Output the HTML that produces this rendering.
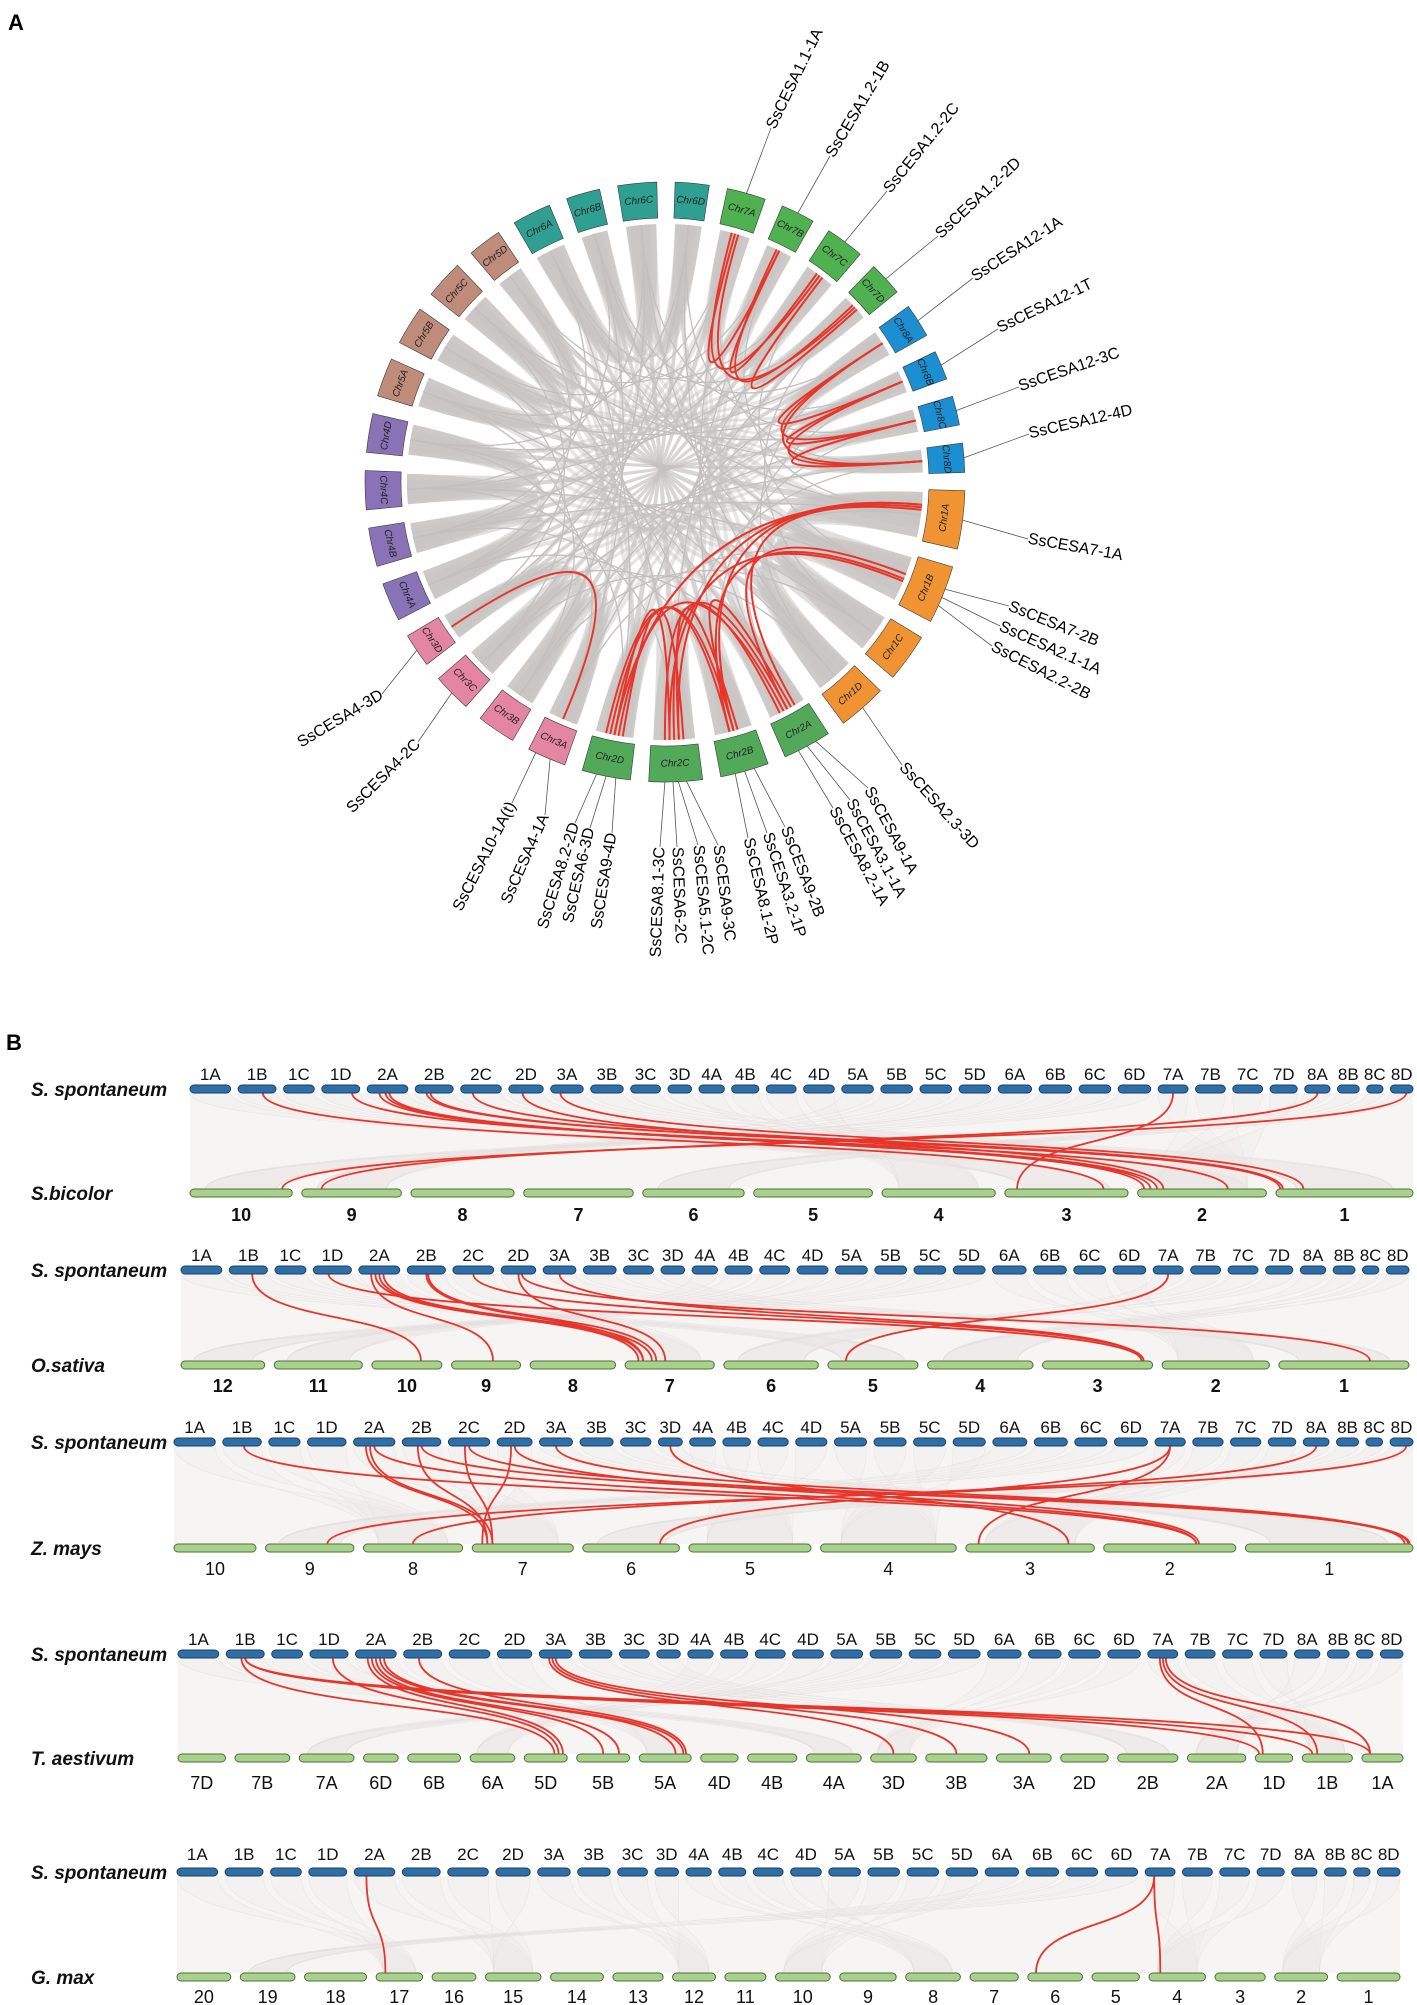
<!DOCTYPE html>
<html><head><meta charset="utf-8"><title>CESA synteny</title>
<style>
html,body{margin:0;padding:0;background:#fff;}
svg{display:block;font-family:"Liberation Sans",Arial,sans-serif;}
</style></head>
<body>
<svg id="fig" width="1417" height="2005" viewBox="0 0 1417 2005" xmlns="http://www.w3.org/2000/svg">
<text x="8" y="30" font-size="22" font-weight="bold">A</text>
<text x="6" y="1050" font-size="22" font-weight="bold">B</text>
<g id="circ"></g>
<g id="lin"></g>
</svg>
<script>
// ---------- Panel A data ----------
const cirChr = ['7A','7B','7C','7D','8A','8B','8C','8D','1A','1B','1C','1D','2A','2B','2C','2D','3A','3B','3C','3D','4A','4B','4C','4D','5A','5B','5C','5D','6A','6B','6C','6D'];
const cirLen = [8,7,8,7,7,6,6,6,12,12,10,10,10,10,11,10,8,8,8,7,8,8,8,8,8,8,8,7,8,7,8,7];
const groupColor = {'1':'#ef9333','2':'#52a95a','3':'#e385a3','4':'#8a72b6','5':'#bf8b7b','6':'#2f9f92','7':'#4fb150','8':'#1b8fd2'};
const cirLinks = [
 ['7A',.5,'7B',.5],['7A',.4,'7C',.5],['7A',.6,'7D',.5],['7B',.5,'7C',.4],['7B',.4,'7D',.4],['7C',.6,'7D',.6],
 ['8A',.5,'8B',.5],['8A',.5,'8C',.5],['8A',.5,'8D',.5],['8B',.5,'8C',.5],['8B',.5,'8D',.5],['8C',.5,'8D',.5],
 ['1A',.3,'2B',.5],['1A',.3,'2C',.4],['1A',.35,'2D',.5],['1B',.4,'2A',.5],['1B',.5,'2B',.6],['1B',.55,'2C',.6],['1A',.4,'2A',.3],
 ['2A',.5,'2C',.5],['2A',.6,'2D',.4],['2B',.4,'2C',.4],['2B',.5,'2D',.6],['2C',.6,'2D',.5],['2A',.4,'2B',.5],['2B',.6,'2D',.7],['2C',.3,'2D',.3],['2A',.7,'2C',.7],
 ['3A',.5,'3D',.5]
];
const geneNames = ['SsCESA1.1-1A','SsCESA1.2-1B','SsCESA1.2-2C','SsCESA1.2-2D','SsCESA12-1A','SsCESA12-1T','SsCESA12-3C','SsCESA12-4D','SsCESA7-1A','SsCESA7-2B','SsCESA2.1-1A','SsCESA2.2-2B','SsCESA2.3-3D','SsCESA9-1A','SsCESA3.1-1A','SsCESA8.2-1A','SsCESA9-2B','SsCESA3.2-1P','SsCESA8.1-2P','SsCESA9-3C','SsCESA5.1-2C','SsCESA6-2C','SsCESA8.1-3C','SsCESA9-4D','SsCESA6-3D','SsCESA8.2-2D','SsCESA4-1A','SsCESA10-1A(t)','SsCESA4-3D','SsCESA4-2C'];
const geneChr = ['7A','7B','7C','7D','8A','8B','8C','8D','1A','1B','1B','1B','1D','2A','2A','2A','2B','2B','2B','2C','2C','2C','2C','2D','2D','2D','3A','3A','3D','3C'];
const geneFrac = [.5,.5,.5,.5,.5,.5,.5,.5,.5,.4,.55,.7,.5,.3,.5,.7,.3,.5,.7,.3,.45,.55,.7,.3,.5,.7,.4,.8,.5,.5];
const geneLayout = [
 [771,128,-64,'start'],[830,156,-59,'start'],[887,191,-51,'start'],[938,236,-43,'start'],[973,278,-33,'start'],[998,329,-26,'start'],[1019,387,-19,'start'],[1029,434,-13,'start'],
 [1028,539,10,'start'],[1009,606,22,'start'],[1000,626,24,'start'],[992,646,27,'start'],[902,765,48,'start'],
 [868,788,62,'start'],[850,800,62,'start'],[833,808,62,'start'],[785,827,69,'start'],[767,833,72,'start'],[748,838,77,'start'],[718,845,83,'start'],[698,845,85,'start'],[677,847,88,'start'],
 [660,847,-88,'end'],[612,833,-81,'end'],[590,828,-77,'end'],[575,823,-73,'end'],[545,815,-66,'end'],[512,803,-63,'end'],[382,694,-31,'end'],[418,742,-45,'end']
];

// ---------- Panel B data ----------
const spChr = ['1A','1B','1C','1D','2A','2B','2C','2D','3A','3B','3C','3D','4A','4B','4C','4D','5A','5B','5C','5D','6A','6B','6C','6D','7A','7B','7C','7D','8A','8B','8C','8D'];
const spLen = [45,42,34,42,45,42,45,38,36,36,33,26,28,30,33,34,35,35,35,35,37,36,35,36,33,33,33,30,28,24,18,25];
const species = ['S.bicolor','O.sativa','Z. mays','T. aestivum','G. max'];
const sbChr = ['10','9','8','7','6','5','4','3','2','1'];
const sbLen = [112,109,113,120,111,130,124,135,141,150];
const osChr = ['12','11','10','9','8','7','6','5','4','3','2','1'];
const osLen = [92,97,77,76,94,98,104,99,116,121,118,143];
const zmChr = ['10','9','8','7','6','5','4','3','2','1'];
const zmLen = [90,97,109,111,106,134,149,141,145,184];
const taChr = ['7D','7B','7A','6D','6B','6A','5D','5B','5A','4D','4B','4A','3D','3B','3A','2D','2B','2A','1D','1B','1A'];
const taLen = [52,60,60,38,58,49,47,58,57,41,54,60,50,67,60,52,66,64,41,55,45];
const gmChr = ['20','19','18','17','16','15','14','13','12','11','10','9','8','7','6','5','4','3','2','1'];
const gmLen = [59,60,68,51,48,61,58,55,47,45,60,62,60,53,60,52,62,55,58,69];
const sbLinks = [['1B',.65,'3',.8],['1D',.8,'2',.7],['2A',.3,'2',.05],['2A',.45,'2',.1],['2A',.55,'2',.15],['2B',.3,'1',.03],['2B',.4,'1',.05],['2C',.3,'1',.05],['2D',.4,'2',.2],['3A',.3,'1',.2],['7A',.5,'3',.1],['8A',.5,'9',.2],['8D',.7,'10',.9]];
const osLinks = [['1B',.6,'10',.7],['1D',.4,'3',.9],['2A',.3,'9',.6],['2A',.4,'7',.15],['2A',.5,'7',.2],['2A',.6,'7',.3],['2B',.5,'7',.2],['2B',.55,'7',.35],['2C',.5,'3',.92],['2D',.5,'7',.45],['2D',.6,'1',.7],['3A',.5,'3',.9],['7A',.5,'5',.2]];
const zmLinks = [['1B',.55,'2',.7],['2A',.3,'7',.15],['2A',.4,'7',.2],['2A',.5,'2',.7],['2B',.4,'7',.15],['2B',.5,'1',.97],['2C',.4,'7',.2],['2C',.5,'1',.98],['2D',.4,'7',.1],['2D',.5,'2',.72],['3A',.5,'1',.95],['3D',.5,'3',.8],['7A',.5,'3',.1],['7A',.5,'6',.8],['8D',.7,'9',.7],['8A',.5,'8',.5]];
const taLinks = [['1B',.5,'1D',.1],['1B',.5,'1B',.2],['1B',.5,'1A',.2],['1B',.4,'5D',.7],['1D',.6,'5D',.8],['2A',.3,'5D',.9],['2A',.4,'5B',.5],['2A',.5,'5B',.8],['2A',.6,'5A',.7],['2A',.7,'5A',.85],['2B',.4,'5A',.9],['3A',.3,'3D',.5],['3A',.4,'3B',.5],['3A',.5,'3A',.6],['7A',.4,'1D',.2],['7A',.5,'1B',.3],['7A',.6,'1A',.2]];
const gmLinks = [['2A',.3,'17',.2],['7A',.3,'6',.15],['7A',.3,'4',.2]];
const sbMap = ['3','2','1','4','9','10','2','6'];
const osMap = ['5','7','1','11','12','2','6','4'];
const zmMap = ['8','7','1','5','4','9','3','6'];
const taMap = ['4A','5A','2B','6A','7A','3D','1B','2A'];
const gmMap = ['17','15','12','8','10','19','4','2'];

const NS='http://www.w3.org/2000/svg';
function mk(tag, attrs, parent){const e=document.createElementNS(NS,tag);for(const k in attrs)e.setAttribute(k,attrs[k]);parent.appendChild(e);return e;}

// ---------- Panel A drawing ----------
const circ=document.getElementById('circ');
const CX=665, CY=482, RO=300, RI=264, RL=258;
const startAng=12, gapAng=3.5;
const sumLen=cirLen.reduce((a,b)=>a+b,0);
const degPerUnit=(360-gapAng*cirChr.length)/sumLen;
const chrStart={}, chrEnd={};
let acc=startAng;
cirChr.forEach((c,i)=>{chrStart[c]=acc;chrEnd[c]=acc+cirLen[i]*degPerUnit;acc=chrEnd[c]+gapAng;});
function pt(a,r){const t=a*Math.PI/180;return [CX+r*Math.sin(t),CY-r*Math.cos(t)];}
function angOf(c,f){return chrStart[c]+(chrEnd[c]-chrStart[c])*f;}
function f2(v){return v.toFixed(1);}
function ribbon(ca,fa1,fa2,cb,fb1,fb2,op,parent){
  const p1=pt(angOf(ca,fa1),RL),p2=pt(angOf(ca,fa2),RL),q1=pt(angOf(cb,fb1),RL),q2=pt(angOf(cb,fb2),RL);
  const d=`M${f2(p1[0])},${f2(p1[1])} A${RL},${RL} 0 0 1 ${f2(p2[0])},${f2(p2[1])} Q${CX},${CY} ${f2(q1[0])},${f2(q1[1])} A${RL},${RL} 0 0 1 ${f2(q2[0])},${f2(q2[1])} Q${CX},${CY} ${f2(p1[0])},${f2(p1[1])}Z`;
  return mk('path',{d:d,fill:'#c8c4c3','fill-opacity':op,stroke:'none'},parent);
}
const ribG=mk('g',{},circ);


const subs=['A','B','C','D'];
// cross-group ribbons filling the interior
cirChr.forEach((c,i)=>{
  [11,16,20].forEach((off,k)=>{
    const o=cirChr[(i+off)%cirChr.length];
    const p=ribbon(c,0.1+k*0.25,0.3+k*0.25,o,0.5-k*0.15,0.7-k*0.15,'0.45',ribG);
    
    
  });
});
for(let g=1;g<=8;g++){
  for(let i=0;i<4;i++)for(let j=i+1;j<4;j++){
    const ca=g+subs[i], cb=g+subs[j];
    const p=ribbon(ca,.05,.95,cb,.05,.95,'0.55',ribG);
    
    
  }
}
// thin gray links
cirChr.forEach((c,i)=>{
  [7,13,19,25].forEach(off=>{
    const o=cirChr[(i+off)%cirChr.length];
    const p1=pt(angOf(c,.5),RL),q1=pt(angOf(o,.5),RL);
    const l=mk('path',{d:`M${f2(p1[0])},${f2(p1[1])} Q${CX},${CY} ${f2(q1[0])},${f2(q1[1])}`,fill:'none',stroke:'#c4c0bf','stroke-width':'1.2'},ribG);
    
    
  });
});
cirChr.forEach((c,i)=>{
  const a1=chrStart[c],a2=chrEnd[c];
  const o1=pt(a1,RO),o2=pt(a2,RO),n1=pt(a1,RI),n2=pt(a2,RI);
  const d=`M${f2(o1[0])},${f2(o1[1])} A${RO},${RO} 0 0 1 ${f2(o2[0])},${f2(o2[1])} L${f2(n2[0])},${f2(n2[1])} A${RI},${RI} 0 0 0 ${f2(n1[0])},${f2(n1[1])}Z`;
  const b=mk('path',{d:d,fill:groupColor[c[0]],stroke:'#3a3a3a','stroke-width':'0.6'},circ);
  
  
  const am=(a1+a2)/2, m=pt(am,(RO+RI)/2);
  let rot=am; if(am>90&&am<270) rot=am-180;
  const t=mk('text',{x:f2(m[0]),y:f2(m[1]),'font-size':'10','font-style':'italic','fill':'#222','text-anchor':'middle','dominant-baseline':'central',transform:`rotate(${f2(rot)} ${f2(m[0])} ${f2(m[1])})`},circ);
  t.textContent='Chr'+c;
  
  
});
const redG=mk('g',{},circ);


cirLinks.forEach(L=>{
  const p=pt(angOf(L[0],L[1]),RL), q=pt(angOf(L[2],L[3]),RL);
  const e=mk('path',{d:`M${f2(p[0])},${f2(p[1])} Q${CX},${CY} ${f2(q[0])},${f2(q[1])}`,fill:'none',stroke:'#e8352a','stroke-width':'2'},redG);
  
  
});
geneNames.forEach((n,i)=>{
  const lay=geneLayout[i];
  const a=pt(angOf(geneChr[i],geneFrac[i]),RO);
  const ln=mk('line',{x1:f2(a[0]),y1:f2(a[1]),x2:lay[0],y2:lay[1],stroke:'#555','stroke-width':'0.8'},circ);
  
  
  const t=mk('text',{x:lay[0],y:lay[1],'font-size':'16','fill':'#000','text-anchor':lay[3],'dominant-baseline':'central',transform:`rotate(${lay[2]} ${lay[0]} ${lay[1]})`},circ);
  t.textContent=n;
  
  
});

// ---------- Panel B drawing ----------
const lin=document.getElementById('lin');
const rows=[
 {bChr:sbChr,bLen:sbLen,links:sbLinks,map:sbMap,x0:190,x1:1413,top:1089,bot:1193,lab:1080,num:1221,numBold:true},
 {bChr:osChr,bLen:osLen,links:osLinks,map:osMap,x0:181,x1:1409,top:1270,bot:1365,lab:1261,num:1392,numBold:true},
 {bChr:zmChr,bLen:zmLen,links:zmLinks,map:zmMap,x0:174,x1:1413,top:1442,bot:1548,lab:1433,num:1575,numBold:false},
 {bChr:taChr,bLen:taLen,links:taLinks,map:taMap,x0:178,x1:1403,top:1654,bot:1758,lab:1645,num:1789,numBold:false},
 {bChr:gmChr,bLen:gmLen,links:gmLinks,map:gmMap,x0:177,x1:1400,top:1872,bot:1977,lab:1860,num:2003,numBold:false}
];
function layout(names,lens,x0,x1,gap){
  const tot=lens.reduce((a,b)=>a+b,0), s=(x1-x0-gap*(names.length-1))/tot;
  const pos={}; let x=x0;
  names.forEach((n,i)=>{pos[n]=[x,x+lens[i]*s];x+=lens[i]*s+gap;});
  return pos;
}
rows.forEach((R,ri)=>{
  const g=mk('g',{},lin);
  
  
  const tp=layout(spChr,spLen,R.x0,R.x1,7.5);
  const bp=layout(R.bChr,R.bLen,R.x0,R.x1,9.5);
  const yT=R.top+4, yB=R.bot-4, ym=(yT+yB)/2;
  const bg=mk('rect',{x:R.x0,y:yT,width:R.x1-R.x0,height:yB-yT,fill:'#f7f4f4'},g);
  
  
  spChr.forEach(c=>{
    const tgt=R.map[parseInt(c[0])-1]; const t=tp[c], b=bp[tgt];
    const bw=(b[1]-b[0]), bx0=b[0]+bw*0.15, bx1=b[1]-bw*0.15;
    const d=`M${f2(t[0])},${yT} C${f2(t[0])},${ym} ${f2(bx1)},${ym} ${f2(bx1)},${yB} L${f2(bx0)},${yB} C${f2(bx0)},${ym} ${f2(t[1])},${ym} ${f2(t[1])},${yT}Z`;
    const p=mk('path',{d:d,fill:'#ebe6e6','fill-opacity':'0.25',stroke:'#e2dcdc','stroke-opacity':'0.5','stroke-width':'0.6'},g);
    
    
  });
  R.links.forEach(L=>{
    const t=tp[L[0]], b=bp[L[2]];
    const xa=t[0]+(t[1]-t[0])*L[1], xb=b[0]+(b[1]-b[0])*L[3];
    const e=mk('path',{d:`M${f2(xa)},${yT} C${f2(xa)},${ym+8} ${f2(xb)},${ym-8} ${f2(xb)},${yB}`,fill:'none',stroke:'#e8352a','stroke-width':'1.8'},g);
    
    
  });
  spChr.forEach(c=>{
    const t=tp[c];
    const r=mk('rect',{x:f2(t[0]),y:R.top-4,width:f2(t[1]-t[0]),height:8,rx:4,fill:'#2f6fa8',stroke:'#1d3f63','stroke-width':'1'},g);
    
    
    const tx=mk('text',{x:f2((t[0]+t[1])/2),y:R.lab,'font-size':'17','text-anchor':'middle',fill:'#111'},g);
    tx.textContent=c;
    
    
  });
  R.bChr.forEach(c=>{
    const b=bp[c];
    const r=mk('rect',{x:f2(b[0]),y:R.bot-4,width:f2(b[1]-b[0]),height:8,rx:4,fill:'#a9d18e',stroke:'#4d6e34','stroke-width':'1'},g);
    
    
    const tx=mk('text',{x:f2((b[0]+b[1])/2),y:R.num,'font-size':'18','font-weight':R.numBold?'bold':'normal','text-anchor':'middle',fill:'#111'},g);
    tx.textContent=c;
    
    
  });
  const s1=mk('text',{x:31,y:R.top+7,'font-size':'19','font-style':'italic','font-weight':'bold',fill:'#111'},g);
  s1.textContent='S. spontaneum';
  
  
  const s2=mk('text',{x:31,y:R.bot+7,'font-size':'19','font-style':'italic','font-weight':'bold',fill:'#111'},g);
  s2.textContent=species[ri];
  
  
});
</script>
</body></html>
